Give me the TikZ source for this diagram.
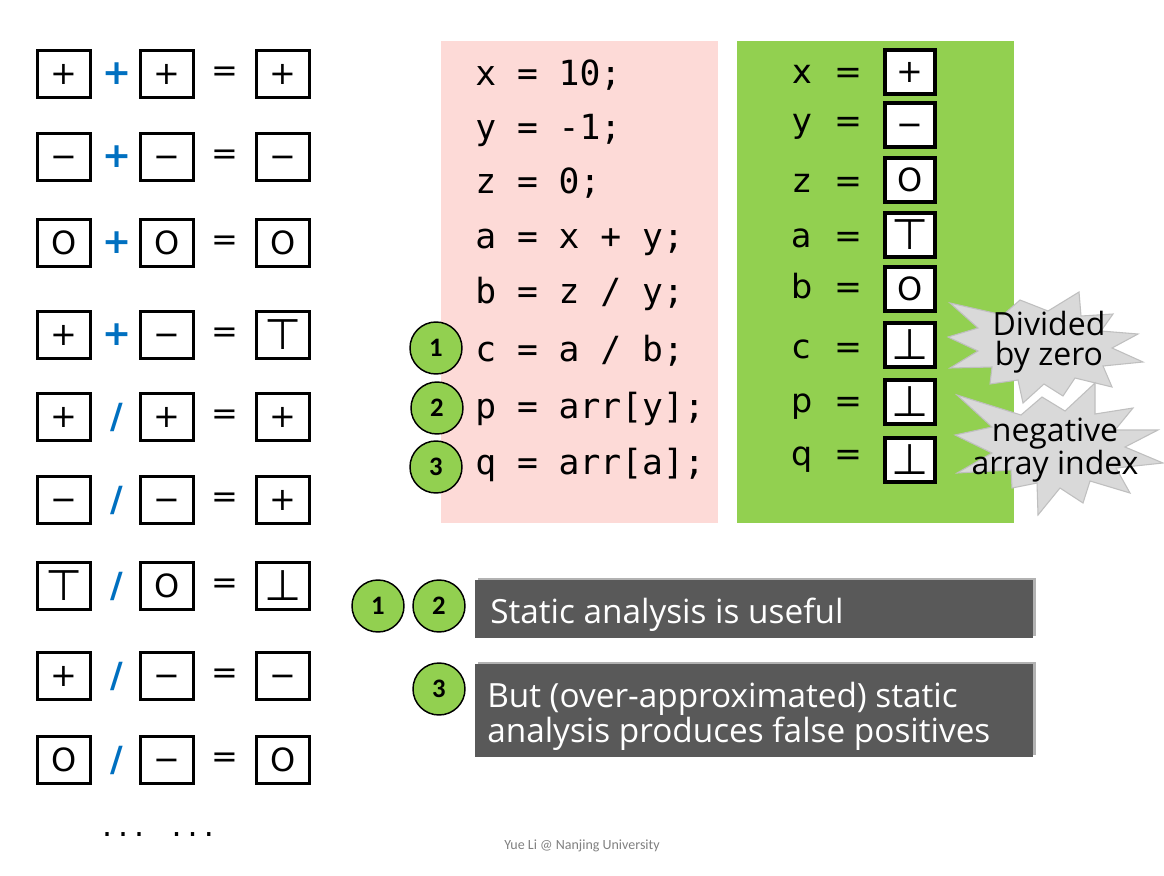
\documentclass[tikz,border=0pt]{standalone}
\usepackage{fontspec}
\setmainfont{DejaVu Sans}
\newfontfamily\codefont{DejaVu Sans Mono}
\newfontfamily\numfont{Carlito}
\newfontfamily\casualfont{Open Sans}
\usetikzlibrary{shadows}
\definecolor{pinkbg}{HTML}{FDDAD7}
\definecolor{greenbg}{HTML}{92D050}
\definecolor{opblue}{HTML}{0070C0}
\definecolor{darkboxc}{HTML}{595959}
\definecolor{burstfill}{HTML}{D9D9D9}
\definecolor{burstline}{HTML}{BFBFBF}
\definecolor{footgray}{HTML}{808080}
\newcommand\symP{+}
\newcommand\symM{\vphantom{+}−}
\newcommand\symZ{O}
\newcommand\symT{{\fontsize{32}{32}\selectfont ⊤}}
\newcommand\symB{{\fontsize{32}{32}\selectfont ⊥}}
\newcommand\opadd{\textbf{+}}
\newcommand\opdiv{\textbf{/}}
\begin{document}
\begin{tikzpicture}[x=0.75pt,y=-0.75pt,
  lbox/.style={draw, line width=2.5pt, minimum width=39.75pt, minimum height=35.25pt, inner sep=0pt, font=\fontsize{24}{24}\selectfont},
  rbox/.style={draw, fill=white, line width=3.6pt, minimum width=37.5pt, minimum height=33pt, inner sep=0pt, font=\fontsize{24}{24}\selectfont},
  opsym/.style={text=opblue, inner sep=0pt, font=\fontsize{26}{26}\selectfont},
  eqsym/.style={inner sep=0pt, font=\fontsize{24}{24}\selectfont},
  codeline/.style={anchor=base west, inner sep=0pt, font=\codefont\fontsize{26}{26}\selectfont},
  varname/.style={anchor=base, inner sep=0pt, font=\fontsize{25}{25}\selectfont},
  numcirc/.style={circle, draw, fill=greenbg, line width=1.1pt, minimum size=39pt, inner sep=0pt, font=\numfont\bfseries\fontsize{20}{20}\selectfont},
  msgbox/.style={fill=darkboxc, minimum width=418.5pt, inner sep=0pt, anchor=north west, drop shadow={shadow xshift=2pt, shadow yshift=2pt, opacity=0.3, fill=black}},
  msgtext/.style={anchor=base west, inner sep=0pt, text=white, font=\casualfont\fontsize{25}{25}\selectfont},
  bursttext/.style={inner sep=0pt, align=center, font=\casualfont\fontsize{24}{22.5}\selectfont},
  burst/.style={fill=burstfill, draw=burstline, line width=0.8pt, line join=miter}
]
\path[use as bounding box, fill=white] (0,0) rectangle (1164,875);

% left table of abstract operations
\foreach \yy/\a/\o/\b/\c [count=\i] in {74/\symP/\opadd/\symP/\symP, 157/\symM/\opadd/\symM/\symM, 243/\symZ/\opadd/\symZ/\symZ, 335/\symP/\opadd/\symM/\symT, 417/\symP/\opdiv/\symP/\symP, 500/\symM/\opdiv/\symM/\symP, 586/\symT/\opdiv/\symZ/\symB, 676/\symP/\opdiv/\symM/\symM, 760/\symZ/\opdiv/\symM/\symZ}{
  \node[lbox] (L\i-a) at (64,\yy) {\a};
  \node[opsym] (L\i-o) at (117,\yy) {\o};
  \node[lbox] (L\i-b) at (167,\yy) {\b};
  \node[eqsym] (L\i-e) at (225,\yy) {=};
  \node[lbox] (L\i-c) at (283,\yy) {\c};
}
\node[inner sep=0pt, font=\codefont\fontsize{20}{20}\selectfont] (dots) at (158,835) {... ...};

% code panel
\fill[pinkbg] (441,41) rectangle (718,523);
\fill[greenbg] (737,41) rectangle (1014,523);
\node[codeline] (k1) at (475,85) {x = 10;};
\node[codeline] (k2) at (475,139) {y = -1;};
\node[codeline] (k3) at (475,193) {z = 0;};
\node[codeline] (k4) at (475,248) {a = x + y;};
\node[codeline] (k5) at (475,303) {b = z / y;};
\node[codeline] (k6) at (475,361) {c = a / b;};
\node[codeline] (k7) at (475,418) {p = arr[y];};
\node[codeline] (k8) at (475,474) {q = arr[a];};
\node[numcirc] (c1) at (436,348) {1};
\node[numcirc] (c2) at (437,408) {2};
\node[numcirc] (c3) at (436,467) {3};

% abstract values
\foreach \yy/\by/\v/\s [count=\i] in {83/72/x/\symP, 132/125/y/\symM, 192/180/z/\symZ, 247/235/a/\symT, 298/289/b/\symZ, 358/345/c/\symB, 412/402/p/\symB, 465/460/q/\symB}{
  \node[varname] (V\i-n) at (802,\yy) {\v};
  \node[varname] (V\i-e) at (848,\yy) {=};
  \node[rbox] (V\i-b) at (910,\by) {\s};
}

% bursts
\path[burst] (950,303) -- (1003,315) -- (1020,300) -- (1048,311) -- (1079,292) -- (1081,316) -- (1113,314) -- (1101,331) -- (1138,334) -- (1112,348) -- (1143,362) -- (1103,366) -- (1112,387) -- (1075,378) -- (1063,396) -- (1044,384) -- (1023,403) -- (1018,380) -- (990,384) -- (992,367) -- (950,368) -- (978,351) -- (948,337) -- (978,328) -- cycle;
\path[burst] (957,395) -- (992,427) -- (955,435) -- (992,453) -- (957,473) -- (1011,470) -- (1012,488) -- (1037,483) -- (1038,515) -- (1060,488) -- (1083,503) -- (1090,481) -- (1130,493) -- (1116,468) -- (1163,463) -- (1125,447) -- (1158,430) -- (1115,430) -- (1133,408) -- (1095,414) -- (1095,383) -- (1065,411) -- (1042,397) -- (1021,415) -- cycle;
\node[bursttext] (dz) at (1049,342) {Divided\\by zero};
\node[bursttext] (nai) at (1055,450) {negative\\array index};

% conclusions
\node[msgbox, minimum height=43.5pt] (m1) at (475,580) {};
\node[msgbox, minimum height=69.75pt] (m2) at (475,664) {};
\node[msgtext] (t1) at (490,623) {Static analysis is useful};
\node[msgtext] (t2a) at (487,707) {But (over-approximated) static};
\node[msgtext] (t2b) at (487,742) {analysis produces false positives};
\node[numcirc] (d1) at (378,606) {1};
\node[numcirc] (d2) at (439,606) {2};
\node[numcirc] (d3) at (439,689) {3};

\node[inner sep=0pt, text=footgray, font=\numfont\fontsize{10.5}{10.5}\selectfont] (foot) at (582,846) {Yue Li @ Nanjing University};
\end{tikzpicture}
\end{document}
